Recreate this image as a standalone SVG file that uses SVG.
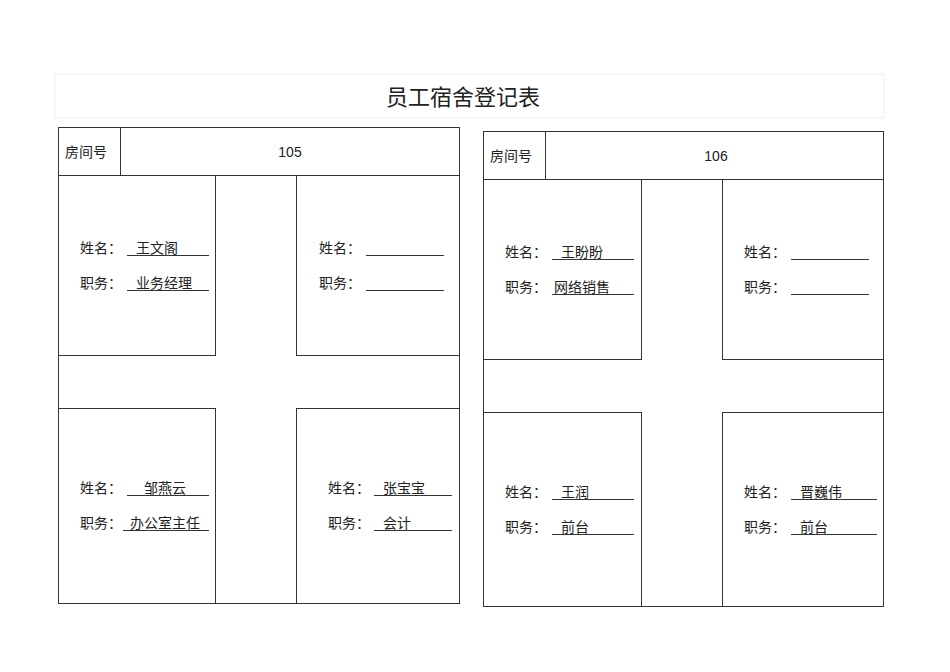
<svg xmlns="http://www.w3.org/2000/svg" width="950" height="672" viewBox="0 0 950 672">
<style>
.b{fill:none;stroke:#333;stroke-width:1}
.u{stroke:#333;stroke-width:1}
text{font-family:"Liberation Sans","Noto Sans CJK SC",sans-serif;font-size:14px;fill:#222}
.t{font-size:22px;text-anchor:middle}
.c{text-anchor:middle}
</style>
<rect width="950" height="672" fill="#fff"/>
<g id="title"><rect x="55" y="74" width="829" height="44" fill="none" stroke="#eee"/><text class="t" x="463" y="105">员工宿舍登记表</text></g>
<g id="table105">
<rect class="b" x="58.5" y="127.5" width="401" height="476"/>
<line class="u" x1="58" y1="175.5" x2="459" y2="175.5"/>
<line class="u" x1="120.5" y1="127" x2="120.5" y2="175"/>
<text x="65" y="157">房间号</text><text class="c" x="290" y="157">105</text>
<rect class="b" x="58.5" y="175.5" width="157" height="180"/>
<rect class="b" x="296.5" y="175.5" width="163" height="180"/>
<rect class="b" x="58.5" y="408.5" width="157" height="195"/>
<rect class="b" x="296.5" y="408.5" width="163" height="195"/>
<text x="80" y="253">姓名：</text><line class="u" x1="127" y1="255.5" x2="209" y2="255.5"/><text x="136" y="253">王文阁</text>
<text x="80" y="288">职务：</text><line class="u" x1="127" y1="290.5" x2="209" y2="290.5"/><text x="136" y="288">业务经理</text>
<text x="319" y="253">姓名：</text><line class="u" x1="366" y1="255.5" x2="444" y2="255.5"/>
<text x="319" y="288">职务：</text><line class="u" x1="366" y1="290.5" x2="444" y2="290.5"/>
<text x="80" y="493">姓名：</text><line class="u" x1="127" y1="495.5" x2="209" y2="495.5"/><text x="144" y="493">邹燕云</text>
<text x="80" y="528">职务：</text><line class="u" x1="123" y1="530.5" x2="209" y2="530.5"/><text x="130" y="528">办公室主任</text>
<text x="328" y="493">姓名：</text><line class="u" x1="374" y1="495.5" x2="452" y2="495.5"/><text x="383" y="493">张宝宝</text>
<text x="328" y="528">职务：</text><line class="u" x1="374" y1="530.5" x2="452" y2="530.5"/><text x="383" y="528">会计</text>
</g>
<g id="table106">
<rect class="b" x="483.5" y="131.5" width="400" height="475"/>
<line class="u" x1="483" y1="179.5" x2="883" y2="179.5"/>
<line class="u" x1="545.5" y1="131" x2="545.5" y2="179"/>
<text x="490" y="161">房间号</text><text class="c" x="716" y="161">106</text>
<rect class="b" x="483.5" y="179.5" width="158" height="180"/>
<rect class="b" x="722.5" y="179.5" width="161" height="180"/>
<rect class="b" x="483.5" y="412.5" width="158" height="194"/>
<rect class="b" x="722.5" y="412.5" width="161" height="194"/>
<text x="505" y="257">姓名：</text><line class="u" x1="552" y1="259.5" x2="634" y2="259.5"/><text x="561" y="257">王盼盼</text>
<text x="505" y="292">职务：</text><line class="u" x1="552" y1="294.5" x2="634" y2="294.5"/><text x="554" y="292">网络销售</text>
<text x="744" y="257">姓名：</text><line class="u" x1="791" y1="259.5" x2="869" y2="259.5"/>
<text x="744" y="292">职务：</text><line class="u" x1="791" y1="294.5" x2="869" y2="294.5"/>
<text x="505" y="497">姓名：</text><line class="u" x1="552" y1="499.5" x2="634" y2="499.5"/><text x="561" y="497">王润</text>
<text x="505" y="532">职务：</text><line class="u" x1="552" y1="534.5" x2="634" y2="534.5"/><text x="561" y="532">前台</text>
<text x="744" y="497">姓名：</text><line class="u" x1="791" y1="499.5" x2="877" y2="499.5"/><text x="800" y="497">晋巍伟</text>
<text x="744" y="532">职务：</text><line class="u" x1="791" y1="534.5" x2="877" y2="534.5"/><text x="800" y="532">前台</text>
</g>
</svg>
